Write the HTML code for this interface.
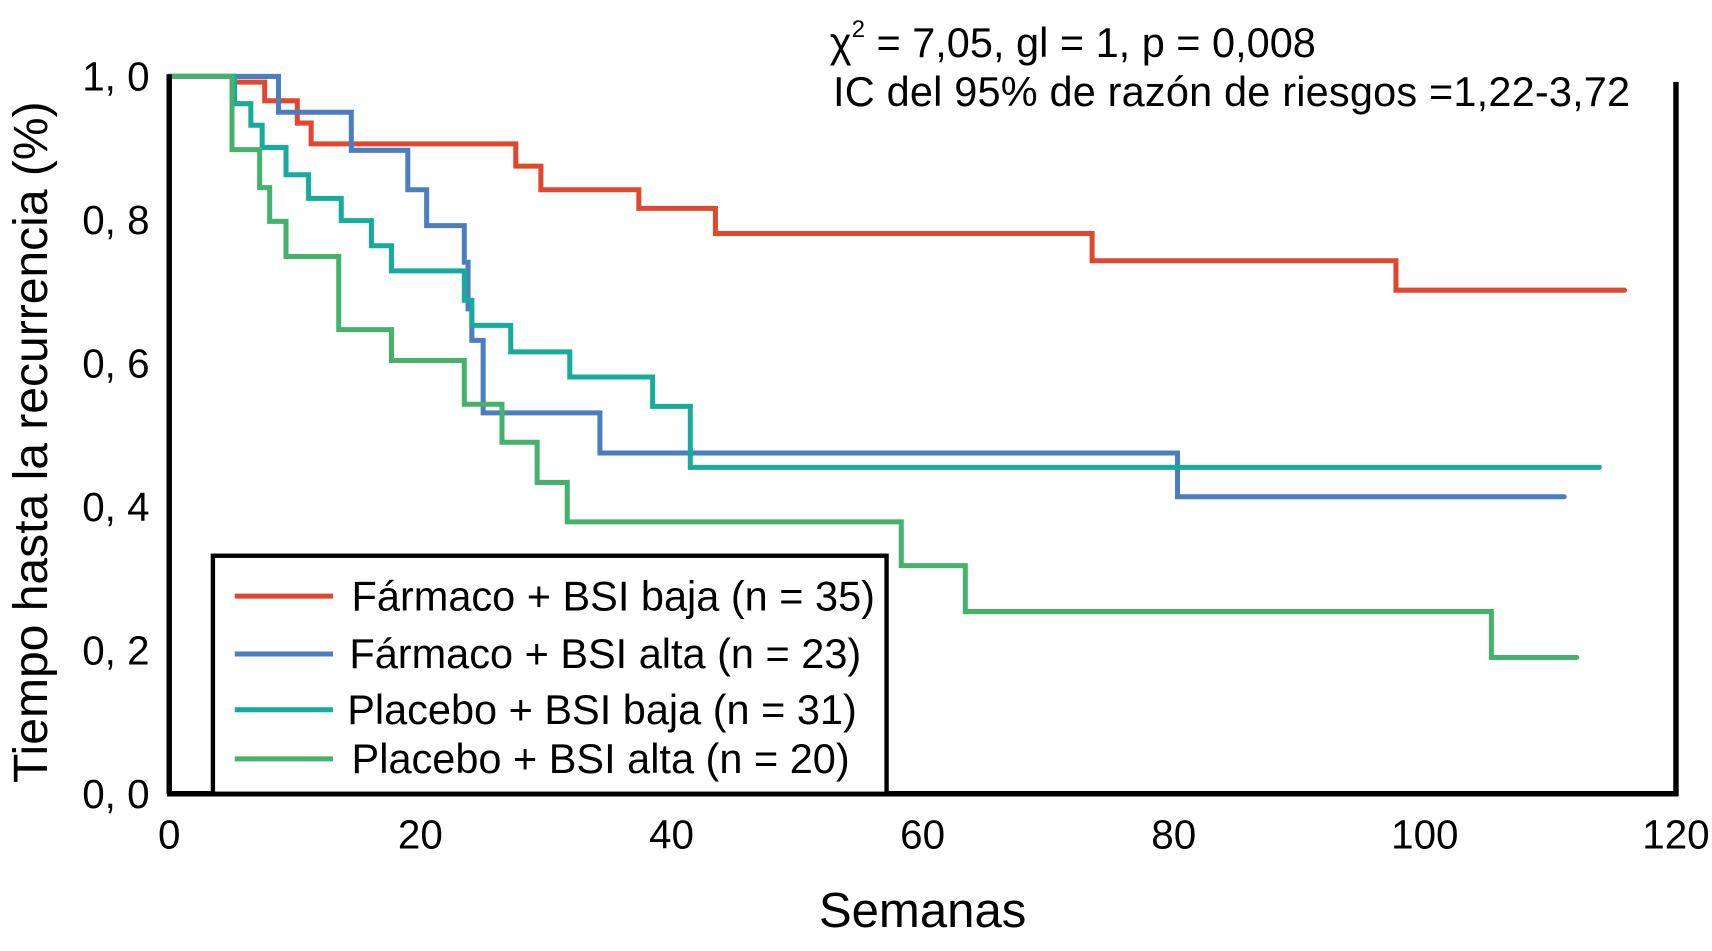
<!DOCTYPE html>
<html><head><meta charset="utf-8"><style>
html,body{margin:0;padding:0;background:#fff;}
svg{display:block;font-family:"Liberation Sans",Arial,sans-serif;}
</style></head><body>
<svg id="chart" width="1712" height="951" viewBox="0 0 1568 871" preserveAspectRatio="none" xmlns="http://www.w3.org/2000/svg">
<g id="series"></g>
<line x1="155" y1="68" x2="155" y2="727" stroke="#000" stroke-width="5"/>
<line x1="153" y1="727" x2="1537" y2="727" stroke="#000" stroke-width="5"/>
<line x1="1535" y1="75" x2="1535" y2="729" stroke="#000" stroke-width="5"/>
<g id="ticks"></g>
<text x="845" y="849" font-size="45" text-anchor="middle">Semanas</text>
<text transform="translate(43,405) rotate(-90)" font-size="44" text-anchor="middle">Tiempo hasta la recurrencia (%)</text>
<text x="760" y="52" font-size="38">χ<tspan dy="-18" font-size="22">2</tspan><tspan dy="18"> = 7,05, gl = 1, p = 0,008</tspan></text>
<text x="763" y="97" font-size="38" textLength="730">IC del 95% de razón de riesgos =1,22-3,72</text>
<g>
<rect x="195" y="509" width="617" height="218" fill="#fff" stroke="#000" stroke-width="4"/>
<g id="legend-items"></g>
</g>
</svg>
<script>
const seriesNames = ["Fármaco + BSI baja (n = 35)","Fármaco + BSI alta (n = 23)","Placebo + BSI baja (n = 31)","Placebo + BSI alta (n = 20)"];
const seriesColors = ["#e0472f","#4a7ebf","#16ab9c","#45b26b"];
const redWeeks = [0,5.2,7.6,10.2,11.3,27.6,29.6,37.4,43.5,73.5,97.7];
const redVals = [1,0.992,0.966,0.935,0.906,0.875,0.842,0.816,0.781,0.743,0.702];
const redEnd = 115.9;
const blueWeeks = [0,8.7,14.5,19.0,20.5,23.5,23.8,24.1,25.0,34.3,80.3];
const blueVals = [1,0.950,0.897,0.842,0.792,0.741,0.676,0.632,0.531,0.475,0.414];
const blueEnd = 111.1;
const tealWeeks = [0,5.2,6.5,7.4,9.3,11.1,13.7,16.1,17.7,23.5,24.1,27.2,31.9,38.5,41.5];
const tealVals = [1,0.962,0.932,0.901,0.863,0.830,0.799,0.764,0.729,0.688,0.653,0.616,0.581,0.540,0.455];
const tealEnd = 113.9;
const greenWeeks = [0,5.0,7.2,8.0,9.3,13.5,17.7,23.5,26.5,29.3,31.7,58.3,63.4,105.3];
const greenVals = [1,0.898,0.845,0.798,0.749,0.647,0.604,0.543,0.490,0.434,0.379,0.318,0.254,0.190];
const greenEnd = 112.1;
const xTicks = [0,20,40,60,80,100,120];
const yTicks = [0,0.2,0.4,0.6,0.8,1.0];
const yTickLabels = ["0, 0","0, 2","0, 4","0, 6","0, 8","1, 0"];

const NS="http://www.w3.org/2000/svg";
const xS = w => 155 + w*(1535-155)/120;
const yS = v => 727 - v*657;
const seriesG = document.getElementById('series');
const all = [[redWeeks,redVals,redEnd],[blueWeeks,blueVals,blueEnd],[tealWeeks,tealVals,tealEnd],[greenWeeks,greenVals,greenEnd]];
const keys = ["farmaco-bsi-baja","farmaco-bsi-alta","placebo-bsi-baja","placebo-bsi-alta"];
all.forEach((s,i)=>{
  const [W,V,E]=s;
  let d = `M${xS(W[0])},${yS(V[0])}`;
  for(let k=1;k<W.length;k++){ d+=` H${xS(W[k])} V${yS(V[k])}`; }
  d+=` H${xS(E)}`;
  const p=document.createElementNS(NS,'path');
  p.setAttribute('d',d);p.setAttribute('fill','none');p.setAttribute('stroke',seriesColors[i]);
  p.setAttribute('stroke-width','4.6');p.setAttribute('stroke-linecap','round');
  
  
  seriesG.appendChild(p);
});
const tg=document.getElementById('ticks');
xTicks.forEach(t=>{
  const tx=document.createElementNS(NS,'text');
  tx.setAttribute('x',xS(t));tx.setAttribute('y',777);tx.setAttribute('font-size','37');tx.setAttribute('text-anchor','middle');
  tx.textContent=t;
  
  
  tg.appendChild(tx);
});
yTicks.forEach((t,i)=>{
  const tx=document.createElementNS(NS,'text');
  tx.setAttribute('x',137);tx.setAttribute('y',yS(t)+13);tx.setAttribute('font-size','37');tx.setAttribute('text-anchor','end');
  tx.textContent=yTickLabels[i];
  
  
  tg.appendChild(tx);
});
const lg=document.getElementById('legend-items');
const rowY=[546,599,650,695];
const textX=[322,320,318,322];
seriesNames.forEach((n,i)=>{
  const l=document.createElementNS(NS,'line');
  l.setAttribute('x1',215);l.setAttribute('x2',305);l.setAttribute('y1',rowY[i]);l.setAttribute('y2',rowY[i]);
  l.setAttribute('stroke',seriesColors[i]);l.setAttribute('stroke-width','4.6');
  
  
  lg.appendChild(l);
  const tx=document.createElementNS(NS,'text');
  tx.setAttribute('x',textX[i]);tx.setAttribute('y',rowY[i]+13);tx.setAttribute('font-size','38');
  tx.textContent=n;
  
  
  lg.appendChild(tx);
});
</script>
</body></html>
